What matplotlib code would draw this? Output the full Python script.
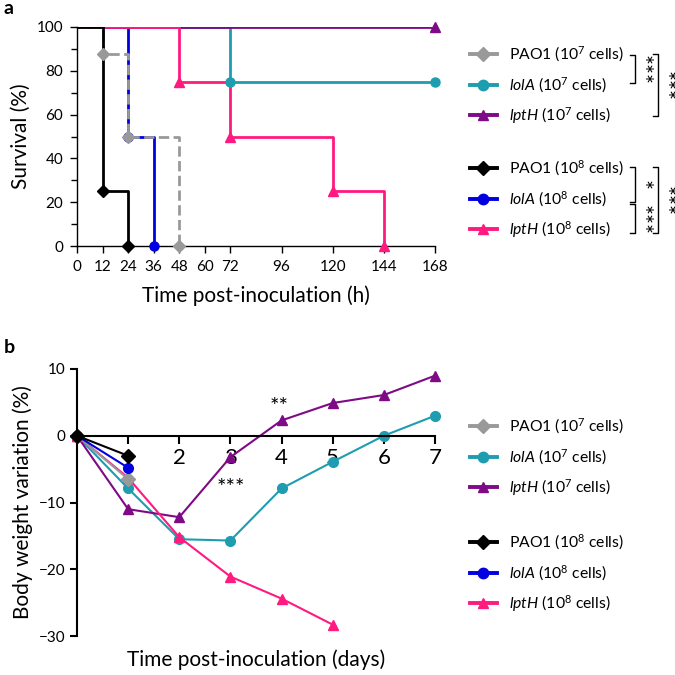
"""Survival and body weight of infected mice (panels a and b)."""

import matplotlib.pyplot as plt
from matplotlib.lines import Line2D

plt.rcParams['font.family'] = ['Lato', 'DejaVu Sans']
plt.rcParams['mathtext.fontset'] = 'custom'
plt.rcParams['mathtext.rm'] = 'Lato'
plt.rcParams['mathtext.it'] = 'Lato:italic'

# ---- data, panel a (Kaplan-Meier steps) ----
surv_times = {
    'PAO1_7': [0, 12, 24, 48],
    'lolA_7': [0, 72, 168],
    'lptH_7': [0, 168],
    'PAO1_8': [0, 12, 24],
    'lolA_8': [0, 24, 36],
    'lptH_8': [0, 48, 72, 120, 144],
}
surv_pct = {
    'PAO1_7': [100, 87.5, 50, 0],
    'lolA_7': [100, 75, 75],
    'lptH_7': [100, 100],
    'PAO1_8': [100, 25, 0],
    'lolA_8': [100, 50, 0],
    'lptH_8': [100, 75, 50, 25, 0],
}
surv_xticks = [0, 12, 24, 36, 48, 60, 72, 96, 120, 144, 168]

# ---- data, panel b (body weight) ----
days = [0, 1, 2, 3, 4, 5, 6, 7]
weight = {
    'PAO1_7': [0, -6.5],
    'lolA_7': [0, -7.9, -15.5, -15.7, -7.9, -3.9, 0, 3.0],
    'lptH_7': [0, -11.0, -12.2, -3.2, 2.3, 4.9, 6.1, 9.0],
    'PAO1_8': [0, -3.0],
    'lolA_8': [0, -4.8],
    'lptH_8': [0, -6.3, -15.2, -21.1, -24.4, -28.3],
}

series = ['PAO1_7', 'lolA_7', 'lptH_7', 'PAO1_8', 'lolA_8', 'lptH_8']
labels = {
    'PAO1_7': 'PAO1 (10$^7$ cells)',
    'lolA_7': '$\\it{lolA}$ (10$^7$ cells)',
    'lptH_7': '$\\it{lptH}$ (10$^7$ cells)',
    'PAO1_8': 'PAO1 (10$^8$ cells)',
    'lolA_8': '$\\it{lolA}$ (10$^8$ cells)',
    'lptH_8': '$\\it{lptH}$ (10$^8$ cells)',
}
colors = {
    'PAO1_7': '#999999',
    'lolA_7': '#1E9DB0',
    'lptH_7': '#7E0A86',
    'PAO1_8': '#000000',
    'lolA_8': '#0000E0',
    'lptH_8': '#FF1A80',
}
markers = {
    'PAO1_7': 'D', 'lolA_7': 'o', 'lptH_7': '^',
    'PAO1_8': 'D', 'lolA_8': 'o', 'lptH_8': '^',
}
# drawing order bottom -> top
order_a = ['lolA_7', 'lptH_7', 'lolA_8', 'lptH_8', 'PAO1_7', 'PAO1_8']
order_b = ['lolA_7', 'lptH_7', 'lptH_8', 'PAO1_7', 'lolA_8', 'PAO1_8']

W = 675.0


def fx(px):
    return px / W


def fy(py):
    return 1 - py / W


fig = plt.figure(figsize=(6.75, 6.75), dpi=100)

# ================= panel a =================
ax1 = fig.add_axes([fx(77), fy(246), fx(435 - 77), (246 - 27) / W])
for k in order_a:
    ls = '--' if k == 'PAO1_7' else '-'
    t, s = surv_times[k], surv_pct[k]
    ax1.step(t, s, where='post', color=colors[k], lw=2.0, ls=ls, zorder=2)
    ax1.plot(t[1:], s[1:], ls='none', marker=markers[k], color=colors[k],
             ms=6.5, zorder=3, clip_on=False)

ax1.set_xlim(0, 168)
ax1.set_ylim(0, 100)
ax1.set_xticks(surv_xticks)
ax1.set_yticks(range(0, 101, 20))
ax1.set_yticks(range(10, 100, 20), minor=True)
ax1.tick_params(labelsize=11, length=5, width=1, direction='out', pad=5)
ax1.tick_params(which='minor', length=4, width=1)
for sp in ['top', 'right']:
    ax1.spines[sp].set_visible(False)
for sp in ['left', 'bottom']:
    ax1.spines[sp].set_linewidth(1)
ax1.set_ylabel('Survival (%)', fontsize=15, labelpad=4)
ax1.set_xlabel('Time post-inoculation (h)', fontsize=15, labelpad=8)

# ================= panel b =================
ax2 = fig.add_axes([fx(77), fy(636), fx(435 - 77), (636 - 369) / W])
for k in order_b:
    ax2.plot(days[:len(weight[k])], weight[k], color=colors[k], lw=1.5,
             marker=markers[k], ms=7, clip_on=False)

ax2.set_xlim(0, 7)
ax2.set_ylim(-30, 10)
ax2.spines['bottom'].set_position(('data', 0))
for sp in ['top', 'right']:
    ax2.spines[sp].set_visible(False)
for sp in ['left', 'bottom']:
    ax2.spines[sp].set_linewidth(1.5)
ax2.set_xticks(days[1:])
ax2.set_xticklabels([''] + [str(d) for d in days[2:]])
ax2.set_yticks([10, 0, -10, -20, -30])
ax2.tick_params(axis='x', labelsize=16, length=6, width=1.5, pad=3)
ax2.tick_params(axis='y', labelsize=11, length=5, width=1.5)
ax2.set_ylabel('Body weight variation (%)', fontsize=15, labelpad=4)
ax2.set_xlabel('Time post-inoculation (days)', fontsize=15)
ax2.xaxis.set_label_coords(0.5, -0.05)
ax2.text(3.95, 4.3, '**', ha='center', va='center', fontsize=16)
ax2.text(3.0, -7.9, '***', ha='center', va='center', fontsize=16)


# ================= legends =================
def make_handles(keys):
    return [Line2D([], [], color=colors[k], lw=2.8, marker=markers[k], ms=7.5)
            for k in keys]


def add_legend(keys, top_px):
    return fig.legend(make_handles(keys), [labels[k] for k in keys],
                      loc='upper left', bbox_to_anchor=(fx(470), fy(top_px)),
                      frameon=False, fontsize=11.3, borderpad=0,
                      borderaxespad=0, handlelength=1.7, handletextpad=0.8,
                      labelspacing=0.68)


add_legend(series[:3], 45)
add_legend(series[3:], 159)
add_legend(series[:3], 417)
add_legend(series[3:], 533)


def bracket(x, y0, y1, stars):
    fig.add_artist(Line2D([fx(x - 5), fx(x), fx(x), fx(x - 5)],
                          [fy(y0), fy(y0), fy(y1), fy(y1)],
                          color='black', lw=1))
    fig.text(fx(x + 6), fy((y0 + y1) / 2 + 1), stars, rotation=270,
             ha='center', va='center', fontsize=17)


bracket(635, 55, 83, '***')
bracket(658, 54, 116, '***')
bracket(635, 167, 202, '*')
bracket(635, 204, 233, '***')
bracket(658, 167, 233, '***')

fig.text(fx(4), fy(9), 'a', fontsize=14, fontweight='bold', va='center')
fig.text(fx(4), fy(347), 'b', fontsize=14, fontweight='bold', va='center')

fig.savefig('out.png', dpi=100)
